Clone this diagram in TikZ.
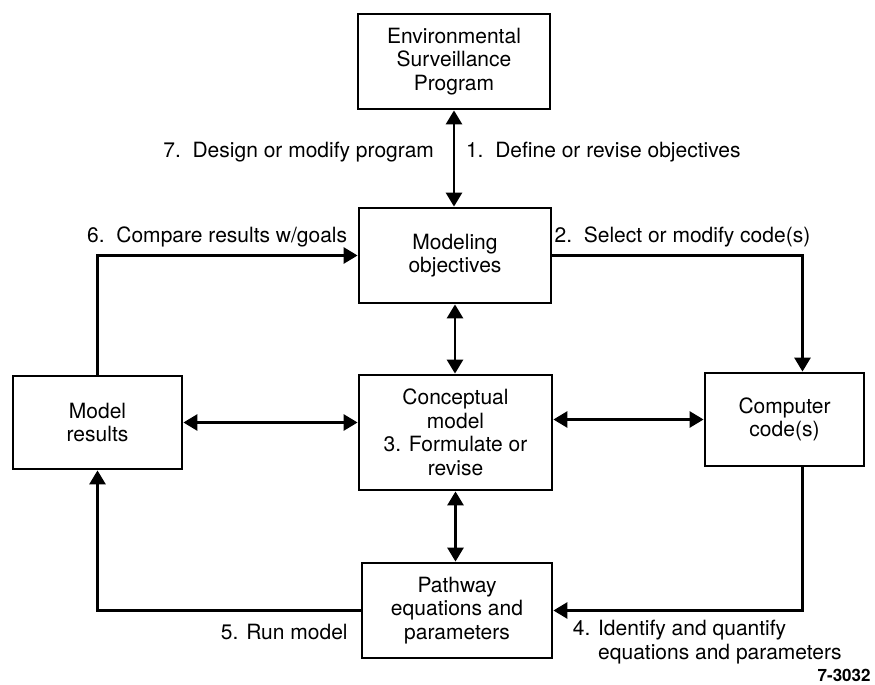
\documentclass[tikz,border=0pt]{standalone}
\usepackage{fontspec}
\setmainfont{TeX Gyre Heros}
\usetikzlibrary{calc}
\usetikzlibrary{positioning,arrows.meta}

\begin{document}
\begin{tikzpicture}[x=0.5pt,y=-0.5pt,>={Triangle[length=7pt,width=8pt]},line width=1.4pt,
	font=\fontsize{10.5}{11.8}\selectfont,
	box/.style={draw,align=center,inner sep=2pt}, ]
	\useasboundingbox (0,0) rectangle (875,685);

	\node[box,minimum width=96pt,minimum height=47.5pt] (env) at (454,61.5) {Environmental\\Surveillance\\Program};
	\node[box,minimum width=96pt,minimum height=47.5pt] (mod) at (455,255.5) {Modeling\\objectives};
	\node[box,minimum width=96.5pt,minimum height=57.5pt] (conc) at (455.5,432.5) {Conceptual\\model\\3. Formulate or\\revise};
	\node[box,minimum width=84.5pt,minimum height=46.5pt] (res) at (97.5,422.5) {Model\\results};
	\node[box,minimum width=79.5pt,minimum height=46.5pt] (comp) at (784.5,419.5) {Computer\\code(s)};
	\node[box,minimum width=95pt,minimum height=47.5pt] (path) at (457,610.5) {Pathway\\equations and\\parameters};
%	\node[anchor=west] (fignum) at (830,675) {7-3032};
	\node[anchor=east,font=\bfseries\fontsize{8.5}{10}\selectfont,inner sep=1pt] (fignum) at (874,675) {7-3032};

	\draw[<->] (env.south) -- node[left=6pt,yshift=3pt] {7.\ \ Design or modify program} node[right=2pt,yshift=3pt] {1.\ \ Define or revise objectives} (env.south |- mod.north);
	\draw[<->] (mod.south) -- (mod.south |- conc.north);
	\draw[<->] (conc.south) -- (conc.south |- path.north);
	\draw[<->] (res.east) -- (res.east -| conc.west);
	\draw[<->] (conc.east |- comp.west) -- (comp.west);

	\draw[->] (mod.east) -| node[above,pos=0.26] {2.\ \ Select or modify code(s)} ($(comp.north)+(18,0)$);
	\draw[->] ($(comp.south)+(18,0)$) |- (path.east) node[anchor=north west,xshift=5.7pt,yshift=-1pt,align=left] {4. Identify and quantify\\\hphantom{4. }equations and parameters};
	\draw[->] (path.west) -- node[below=3pt,pos=0.29] {5. Run model} (path.west -| res.south) -- (res.south);
	\draw[->] (res.north) |- node[above,pos=0.73] {6.\ \ Compare results w/goals} (mod.west);

\end{tikzpicture}
\end{document}
